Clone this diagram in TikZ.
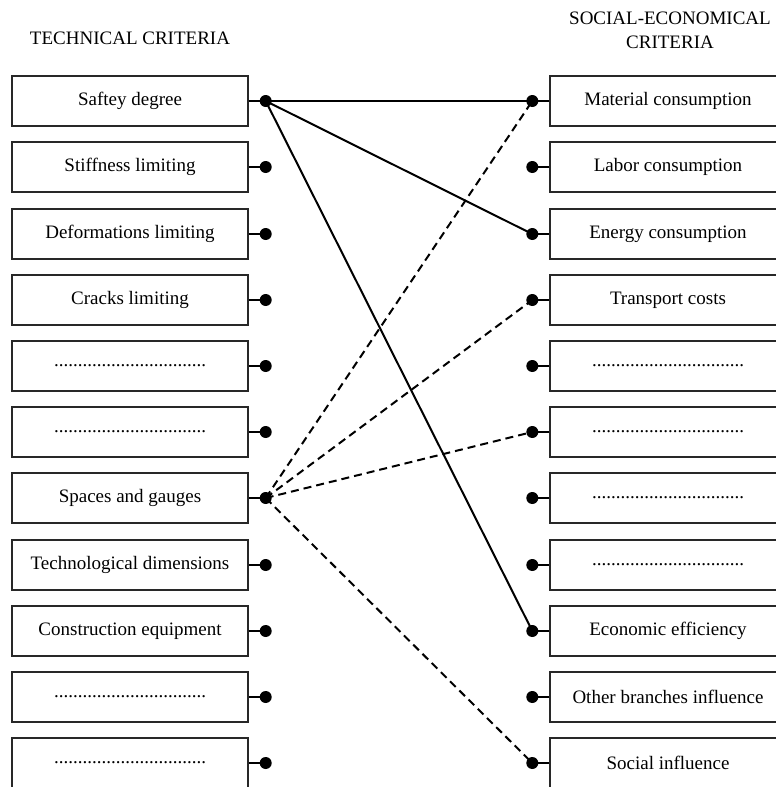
\documentclass[tikz,border=0pt]{standalone}
\usepackage{fontspec}
\setmainfont{Liberation Serif}
\usepackage{tikz}
\usetikzlibrary{arrows.meta}
\usepackage{xcolor}
\definecolor{ColBox}{RGB}{40,40,40}
\tikzstyle{CritBox}=[draw=ColBox,line width=1.4pt,minimum width=236pt,minimum height=50pt,
inner sep=0pt,font=\fontsize{19}{21}\selectfont]
\tikzstyle{CritDot}=[circle,fill=black,inner sep=0pt,minimum size=12pt]
\tikzstyle{Stub}=[black,line width=1.8pt]
\tikzstyle{LinkSolid}=[black,line width=2pt,line cap=round]
\tikzstyle{LinkDashed}=[black,line width=2pt,dash pattern=on 8pt off 5pt]
\tikzstyle{Title}=[font=\fontsize{19}{24}\selectfont,align=center]
\newcommand{\blank}{................................}

\begin{document}
\begin{tikzpicture}[x=1pt,y=-1pt]
        \clip(0,0)rectangle(776,787);
        \fill[white](0,0)rectangle(776,787);
        \node[Title](tl)at(130,38){TECHNICAL CRITERIA};
        \node[Title](tr)at(670,30){SOCIAL-ECONOMICAL\\CRITERIA};
        % technical criteria
        \node[CritBox](l1)at(130,101){Saftey degree};
        \node[CritBox](l2)at(130,167){Stiffness limiting};
        \node[CritBox](l3)at(130,234){Deformations limiting};
        \node[CritBox](l4)at(130,300){Cracks limiting};
        \node[CritBox](l5)at(130,366){\blank};
        \node[CritBox](l6)at(130,432){\blank};
        \node[CritBox](l7)at(130,498){Spaces and gauges};
        \node[CritBox](l8)at(130,565){Technological dimensions};
        \node[CritBox](l9)at(130,631){Construction equipment};
        \node[CritBox](l10)at(130,697){\blank};
        \node[CritBox](l11)at(130,763){\blank};
        % social-economical criteria
        \node[CritBox](r1)at(668,101){Material consumption};
        \node[CritBox](r2)at(668,167){Labor consumption};
        \node[CritBox](r3)at(668,234){Energy consumption};
        \node[CritBox](r4)at(668,300){Transport costs};
        \node[CritBox](r5)at(668,366){\blank};
        \node[CritBox](r6)at(668,432){\blank};
        \node[CritBox](r7)at(668,498){\blank};
        \node[CritBox](r8)at(668,565){\blank};
        \node[CritBox](r9)at(668,631){Economic efficiency};
        \node[CritBox](r10)at(668,697){Other branches influence};
        \node[CritBox](r11)at(668,763){Social influence};
        % dots and stubs
        \foreach \i in {1,...,11}{
            \node[CritDot](ld\i)at([xshift=17pt]l\i.east){};
            \node[CritDot](rd\i)at([xshift=-17pt]r\i.west){};
            \draw[Stub](l\i.east)--(ld\i.center);
            \draw[Stub](r\i.west)--(rd\i.center);
        }
        % links
        \draw[LinkSolid](ld1.center)--(rd1.center);
        \draw[LinkSolid](ld1.center)--(rd3.center);
        \draw[LinkSolid](ld1.center)--(rd9.center);
        \draw[LinkDashed](ld7.center)--(rd1.center);
        \draw[LinkDashed](ld7.center)--(rd4.center);
        \draw[LinkDashed](ld7.center)--(rd6.center);
        \draw[LinkDashed](ld7.center)--(rd11.center);
    \end{tikzpicture}
\end{document}
